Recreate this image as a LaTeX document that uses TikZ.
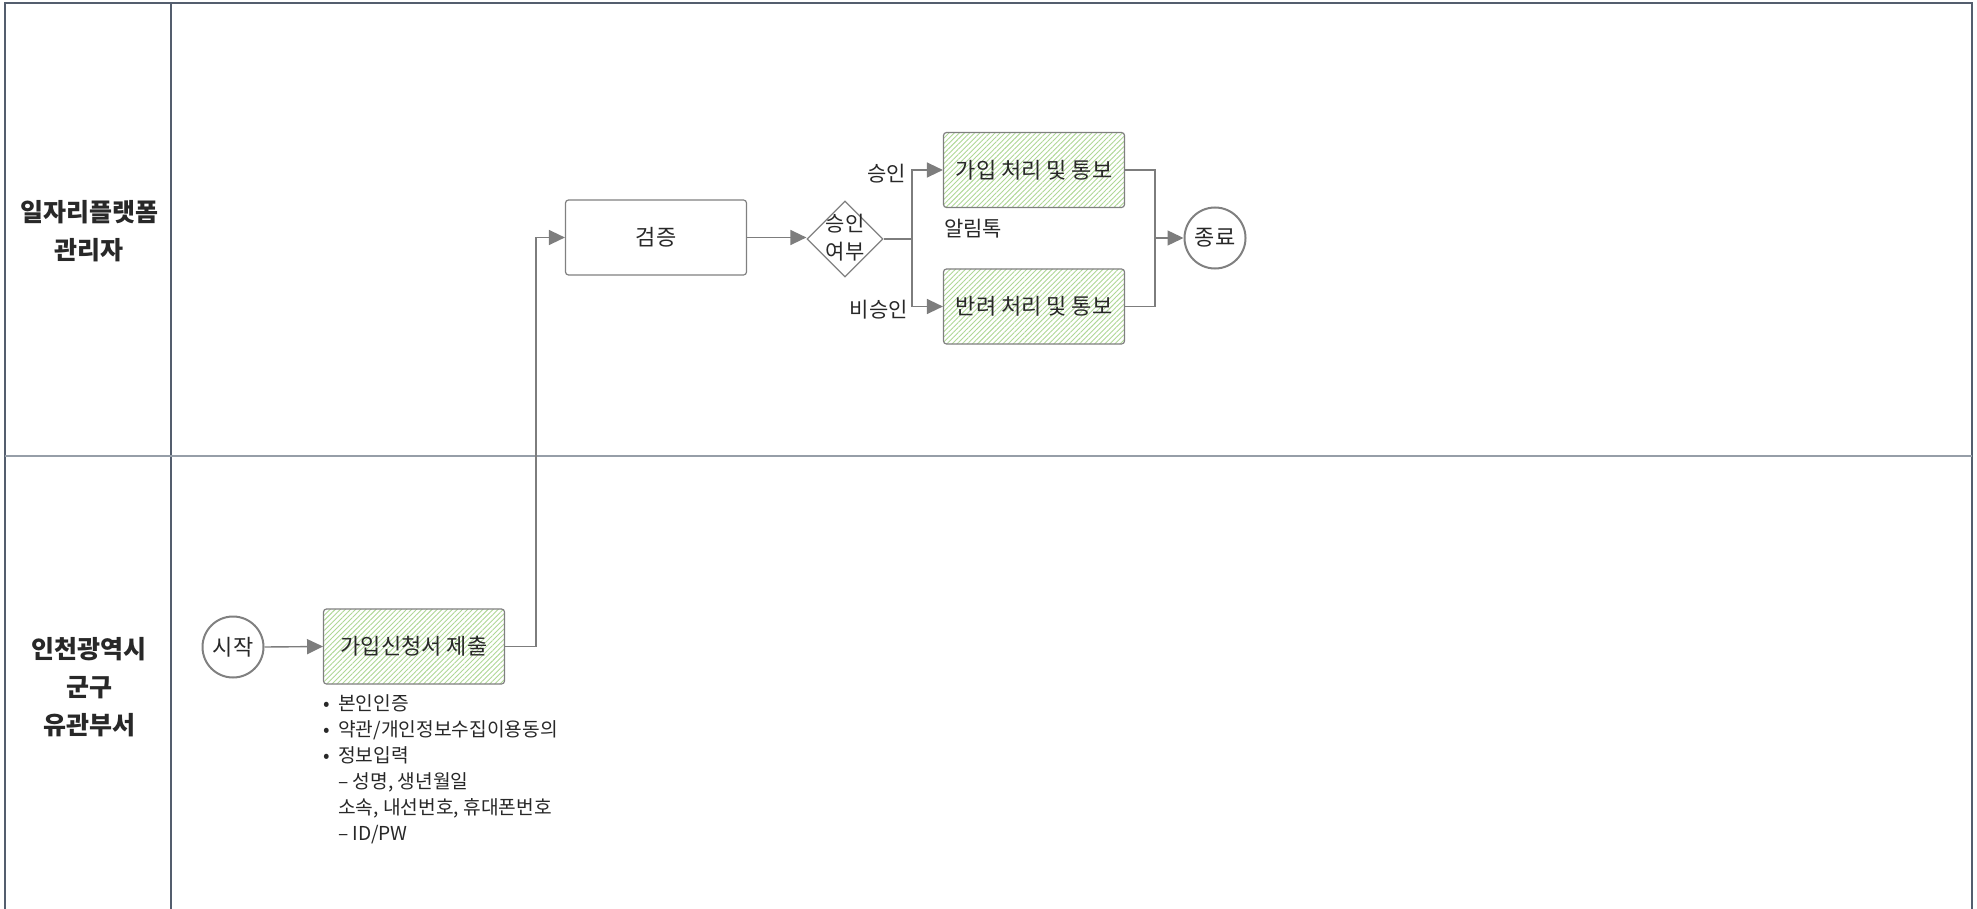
\documentclass[tikz,border=0pt]{standalone}
\usepackage{fontspec}
\setmainfont{Noto Sans CJK KR}
\usetikzlibrary{arrows.meta,shapes.geometric,patterns.meta,calc}
\definecolor{frameC}{RGB}{84,94,110}
\definecolor{divC}{RGB}{150,158,168}
\definecolor{lineC}{RGB}{125,125,125}
\definecolor{boxC}{RGB}{128,128,128}
\definecolor{hatchC}{RGB}{175,215,150}
\definecolor{txtC}{RGB}{40,40,40}
\begin{document}
\begin{tikzpicture}[x=1pt,y=-1pt,
  every node/.style={text=txtC},
  lanelbl/.style={font=\fontsize{25}{38}\selectfont\bfseries, align=center},
  procbox/.style={draw=boxC, line width=1.2pt, rounded corners=3pt, minimum width=181pt, minimum height=75pt, inner sep=0pt, font=\fontsize{22}{26}\selectfont},
  hatched/.style={pattern={Lines[angle=45,distance=3.6pt,line width=0.9pt]}, pattern color=hatchC},
  terminal/.style={circle, draw=boxC, line width=2pt, minimum size=61pt, inner sep=0pt, font=\fontsize{22}{26}\selectfont},
  decision/.style={diamond, draw=boxC, line width=1.2pt, minimum width=76pt, minimum height=76pt, inner sep=0pt},
  lbl/.style={font=\fontsize{21}{26}\selectfont, inner sep=0pt},
  conn/.style={draw=lineC, line width=1.4pt},
  arr/.style={conn, -{Triangle[length=16pt,width=15pt]}}
]
\useasboundingbox (0,0) rectangle (1977,909);
% frame
\draw[frameC, line width=1.3pt] (5,909) -- (5,3) -- (1972,3) -- (1972,909);
\draw[frameC, line width=1.1pt] (171,3) -- (171,909);
\draw[divC, line width=1.6pt] (5,456) -- (1972,456);
% lane labels
\node[lanelbl] (lane1) at (89,231) {일자리플랫폼\\관리자};
\node[lanelbl] (lane2) at (89,687) {인천광역시\\군구\\유관부서};
% nodes
\node[terminal] (start) at (233,647) {시작};
\node[procbox, hatched] (submit) at (414,646.5) {가입신청서 제출};
\node[procbox] (verify) at (656,237.5) {검증};
\node[decision] (dec) at (845,239) {};
\node[lbl, align=center, font=\fontsize{21}{28}\selectfont] (dect) at (845,238) {승인\\여부};
\node[procbox, hatched] (approve) at (1034,170) {가입 처리 및 통보};
\node[procbox, hatched] (reject) at (1034,306.5) {반려 처리 및 통보};
\node[terminal] (end) at (1215,238) {종료};
% notes
\node[lbl, anchor=east] (lblok) at (906,174) {승인};
\node[lbl, anchor=east] (lblno) at (908,310) {비승인};
\node[lbl, anchor=west] (lbltalk) at (944,229) {알림톡};
\node[anchor=north west, align=left, inner sep=0pt, font=\fontsize{19.2}{26}\selectfont] (notes) at (323,694)
 {\makebox[15pt][l]{•}본인인증\\
  \makebox[15pt][l]{•}약관/개인정보수집이용동의\\
  \makebox[15pt][l]{•}정보입력\\
  \hspace*{15pt}– 성명, 생년월일\\
  \hspace*{15pt}소속, 내선번호, 휴대폰번호\\
  \hspace*{15pt}– ID/PW};
% helper coordinates
\coordinate (upx) at (536,0);
\coordinate (bx) at (912,0);
\coordinate (mx) at (1155,0);
% connectors
\draw[arr] (start.east) -- (submit.west);
\draw[arr] (submit.east) -- (submit.east -| upx) -- (upx |- verify.west) -- (verify.west);
\draw[arr] (verify.east) -- (verify.east -| dec.west);
\draw[conn] (dec.east) -- (dec.east -| bx);
\draw[arr] (dec.east -| bx) |- (approve.west);
\draw[arr] (dec.east -| bx) |- (reject.west);
\draw[conn] (approve.east) -| (mx |- end.west);
\draw[conn] (reject.east) -| (mx |- end.west);
\draw[arr] (mx |- end.west) -- (end.west);
\end{tikzpicture}
\end{document}
